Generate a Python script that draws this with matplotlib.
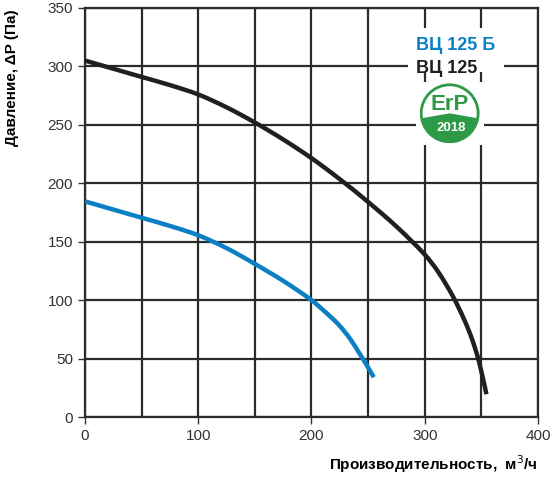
import matplotlib
matplotlib.use("Agg")
import matplotlib.pyplot as plt
from matplotlib.patches import Circle, Wedge, Rectangle, PathPatch
from matplotlib.path import Path

# flow (m3/h) and pressure (Pa)
flow_vc125 = [0, 25, 50, 75, 100, 125, 150, 175, 200, 225, 250, 275, 300,
              312, 325, 335, 342, 348, 354.5]
pres_vc125 = [305, 298, 291, 284, 276, 265, 252, 237.5, 221.5, 203.5, 184, 163, 139,
              124, 103, 83, 66, 47, 19.5]

flow_vc125b = [0, 25, 50, 75, 100, 125, 150, 175, 200, 212, 224, 234, 242, 249, 255]
pres_vc125b = [184.5, 177.5, 170.5, 163.5, 155.5, 144.5, 131, 116.5, 100, 90, 79, 67, 55, 44, 34]

labels = ["ВЦ 125 Б", "ВЦ 125"]
colors = ["#0a7fc4", "#231f20"]


def smooth_path(xs, ys):
    # cubic hermite through the points (slopes from neighbours), as bezier segments
    n = len(xs)
    m = []
    for i in range(n):
        a = max(i - 1, 0)
        b = min(i + 1, n - 1)
        m.append((ys[b] - ys[a]) / (xs[b] - xs[a]))
    verts = [(xs[0], ys[0])]
    codes = [Path.MOVETO]
    for i in range(n - 1):
        dx = xs[i + 1] - xs[i]
        verts += [(xs[i] + dx / 3, ys[i] + m[i] * dx / 3),
                  (xs[i + 1] - dx / 3, ys[i + 1] - m[i + 1] * dx / 3),
                  (xs[i + 1], ys[i + 1])]
        codes += [Path.CURVE4] * 3
    return Path(verts, codes)


plt.rcParams['font.family'] = ['Liberation Sans', 'DejaVu Sans']

fig = plt.figure(figsize=(5.56, 4.78), dpi=100)
ax = fig.add_axes([0.1529, 0.1276, 0.8147, 0.8557])

ax.set_xlim(0, 400)
ax.set_ylim(0, 350)
ax.set_xticks(range(0, 401, 100))
ax.set_xticks(range(0, 401, 50), minor=True)
ax.set_yticks(range(0, 351, 50))
ax.tick_params(axis='both', which='major', direction='out', length=5, width=1,
               color='#333333', labelsize=11, labelcolor='#333333')
ax.tick_params(axis='x', which='minor', length=0)
ax.grid(True, which='both', color='#2b2b2b', linewidth=1.6)
ax.set_axisbelow(True)
for s in ax.spines.values():
    s.set_color('#2b2b2b')
    s.set_linewidth(1.6)

ax.add_patch(PathPatch(smooth_path(flow_vc125, pres_vc125), facecolor='none',
                       edgecolor=colors[1], linewidth=3.2, capstyle='butt', zorder=3))
ax.add_patch(PathPatch(smooth_path(flow_vc125b, pres_vc125b), facecolor='none',
                       edgecolor=colors[0], linewidth=3.2, capstyle='butt', zorder=3))

ax.set_ylabel("Давление, ΔP (Па)", fontsize=11, fontweight='bold', labelpad=12)
ax.yaxis.set_label_coords(-0.145, 0.83)
ax.text(1.0, -0.115, "Производительность,  м$^3$/ч", transform=ax.transAxes,
        ha='right', va='center', fontsize=11, fontweight='bold')

# legend block with white background
ax.add_patch(Rectangle((285, 295), 85, 38, facecolor='white', edgecolor='none', zorder=2))
ax.text(292, 318, labels[0], color=colors[0], fontsize=13, fontweight='bold',
        va='center', zorder=4)
ax.text(292, 298.5, labels[1], color=colors[1], fontsize=13, fontweight='bold',
        va='center', zorder=4)

# ErP 2018 badge
cx, cy = 322, 260
green = "#2e9a47"
ax.add_patch(Rectangle((cx - 30, cy - 27), 60, 54, facecolor='white', edgecolor='none', zorder=2))
badge_ax = fig.add_axes([(85 + cx * 1.1325 - 30) / 556, (478 - (417 - cy * 1.168) - 30) / 478,
                         60 / 556, 60 / 478])
badge_ax.set_xlim(-1, 1)
badge_ax.set_ylim(-1, 1)
badge_ax.set_aspect('equal')
badge_ax.axis('off')
badge_ax.add_patch(Circle((0, 0), 0.95, facecolor='white', edgecolor=green, linewidth=2))
badge_ax.add_patch(Wedge((0, 0), 0.95, 190, 350, facecolor=green, edgecolor='none'))
badge_ax.add_patch(Rectangle((-0.93, -0.18), 1.86, 0.04, facecolor=green, edgecolor='none'))
badge_ax.text(0, 0.3, "ErP", color=green, fontsize=16, fontweight='bold',
              ha='center', va='center')
badge_ax.text(0.05, -0.5, "2018", color='white', fontsize=9.5, fontweight='bold',
              ha='center', va='center')

fig.savefig("out.png", dpi=100)
